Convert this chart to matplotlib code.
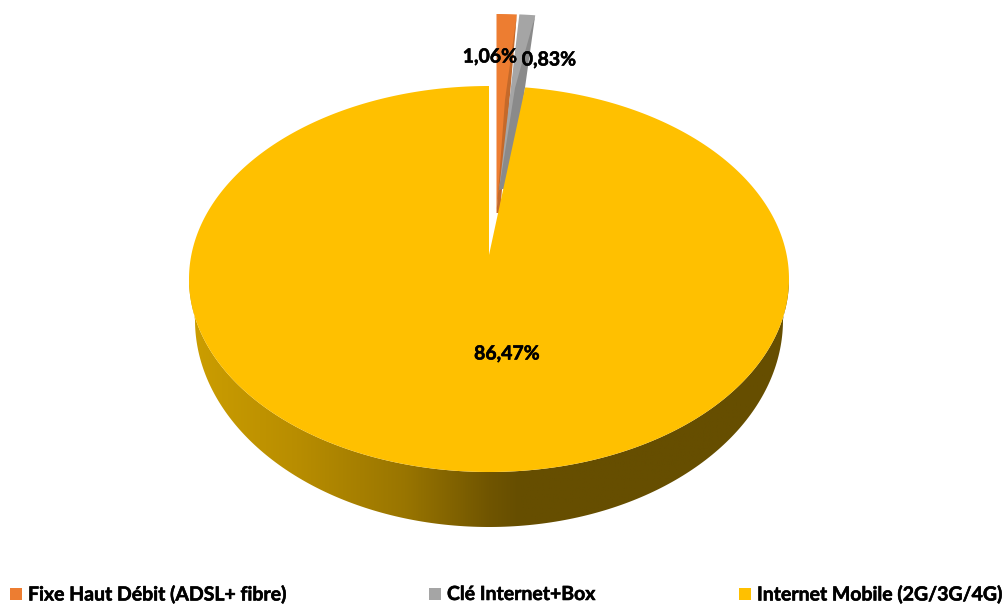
import numpy as np
import matplotlib.pyplot as plt
import matplotlib.patheffects as pe
from matplotlib.colors import LinearSegmentedColormap
from matplotlib.patches import Polygon, Rectangle

plt.rcParams['font.family'] = ['Lato', 'DejaVu Sans']

# === data ===
categories = ["Fixe Haut Débit (ADSL+ fibre)", "Clé Internet+Box", "Internet Mobile (2G/3G/4G)"]
values = [1.06, 0.83, 86.47]
labels = ["1,06%", "0,83%", "86,47%"]
colors = ["#ED7D31", "#A5A5A5", "#FFC000"]
dark_colors = ["#C4692A", "#8A8A8A"]
rim_stops = [0.0, 0.18, 0.36, 0.5, 0.55, 1.0]
rim_colors = ["#CC9E00", "#B88D00", "#997500", "#705500", "#664E00", "#664E00"]

# pixel layout of the fake 3D pie
cx, cy, rx, ry = 489, 279, 300, 193
bottom_cx, bottom_cy, bottom_rx, bottom_ry = 489, 320, 294, 207
squeeze = 0.9  # small slices look narrower in the perspective

shares = np.array(values) / sum(values)
edges = np.concatenate([[0], np.cumsum(shares)]) * 360 * squeeze

fig = plt.figure(figsize=(10.08, 6.04), dpi=100)
ax = fig.add_axes([0, 0, 1, 1])
ax.set_xlim(0, 1008)
ax.set_ylim(604, 0)
ax.axis("off")


def arc(x0, y0, a, b, t0, t1, n=200):
    t = np.radians(np.linspace(t0, t1, n))
    return np.column_stack([x0 + a * np.sin(t), y0 - b * np.cos(t)])


# exploded slices, cut flat at the top of the plot area
clip = Rectangle((0, 14), 1008, 590, transform=ax.transData)
tips = [(496.5, 213), (499, 190)]
wall_tips = [(500, 213), (511, 187)]
wall_inner = [(505, 100), (515, 88)]
for i in range(2):
    t0, t1 = edges[i], edges[i + 1]
    x0, y0 = tips[i]
    outer = arc(x0, y0, rx, y0 - 14, t0, t1, 20)
    p = ax.add_patch(Polygon(np.vstack([[x0, y0], outer]), fc=colors[i], ec="none", zorder=2))
    p.set_clip_path(clip)
    # darker wall on the right side of the slice, partly hidden by the big slice
    wall = np.vstack([outer[-1], wall_tips[i], [x0, y0], wall_inner[i]])
    w = ax.add_patch(Polygon(wall, fc=dark_colors[i], ec="none", zorder=2))
    w.set_clip_path(clip)

# rim of the big slice with a horizontal gradient
top_edge = arc(cx, cy, rx, ry, 90, 270)
bottom_edge = arc(bottom_cx, bottom_cy, bottom_rx, bottom_ry, 270, 90)
rim = Polygon(np.vstack([top_edge, bottom_edge]), fc="none", ec="none", zorder=3)
ax.add_patch(rim)
cmap = LinearSegmentedColormap.from_list("rim", list(zip(rim_stops, rim_colors)))
grad = ax.imshow(np.linspace(0, 1, 256).reshape(1, -1), cmap=cmap, aspect="auto",
                 extent=(189, 789, 540, 270), zorder=3)
grad.set_clip_path(rim)
ax.set_xlim(0, 1008)
ax.set_ylim(604, 0)

# top face of the big slice
top_face = np.vstack([[cx, 255], arc(cx, cy, rx, ry, edges[2], 360, 400)])
ax.add_patch(Polygon(top_face, fc=colors[2], ec="none", zorder=4))

heavy = [pe.withStroke(linewidth=0.4, foreground="black")]
label_pos = [(490, 57), (549, 60), (507, 354)]
for (x, y), txt in zip(label_pos, labels):
    ax.text(x, y, txt, fontsize=14, fontweight="bold", ha="center", va="center",
            zorder=6, path_effects=heavy)

# legend
legend_x = [10, 429, 739]
for x, name, col in zip(legend_x, categories, colors):
    ax.add_patch(Rectangle((x, 588), 12, 12, fc=col, ec="none", zorder=5))
    ax.text(x + 18, 594.5, name, fontsize=14, fontweight="bold", ha="left", va="center",
            color="black", zorder=6, path_effects=heavy)

fig.savefig("out.png", dpi=100)
